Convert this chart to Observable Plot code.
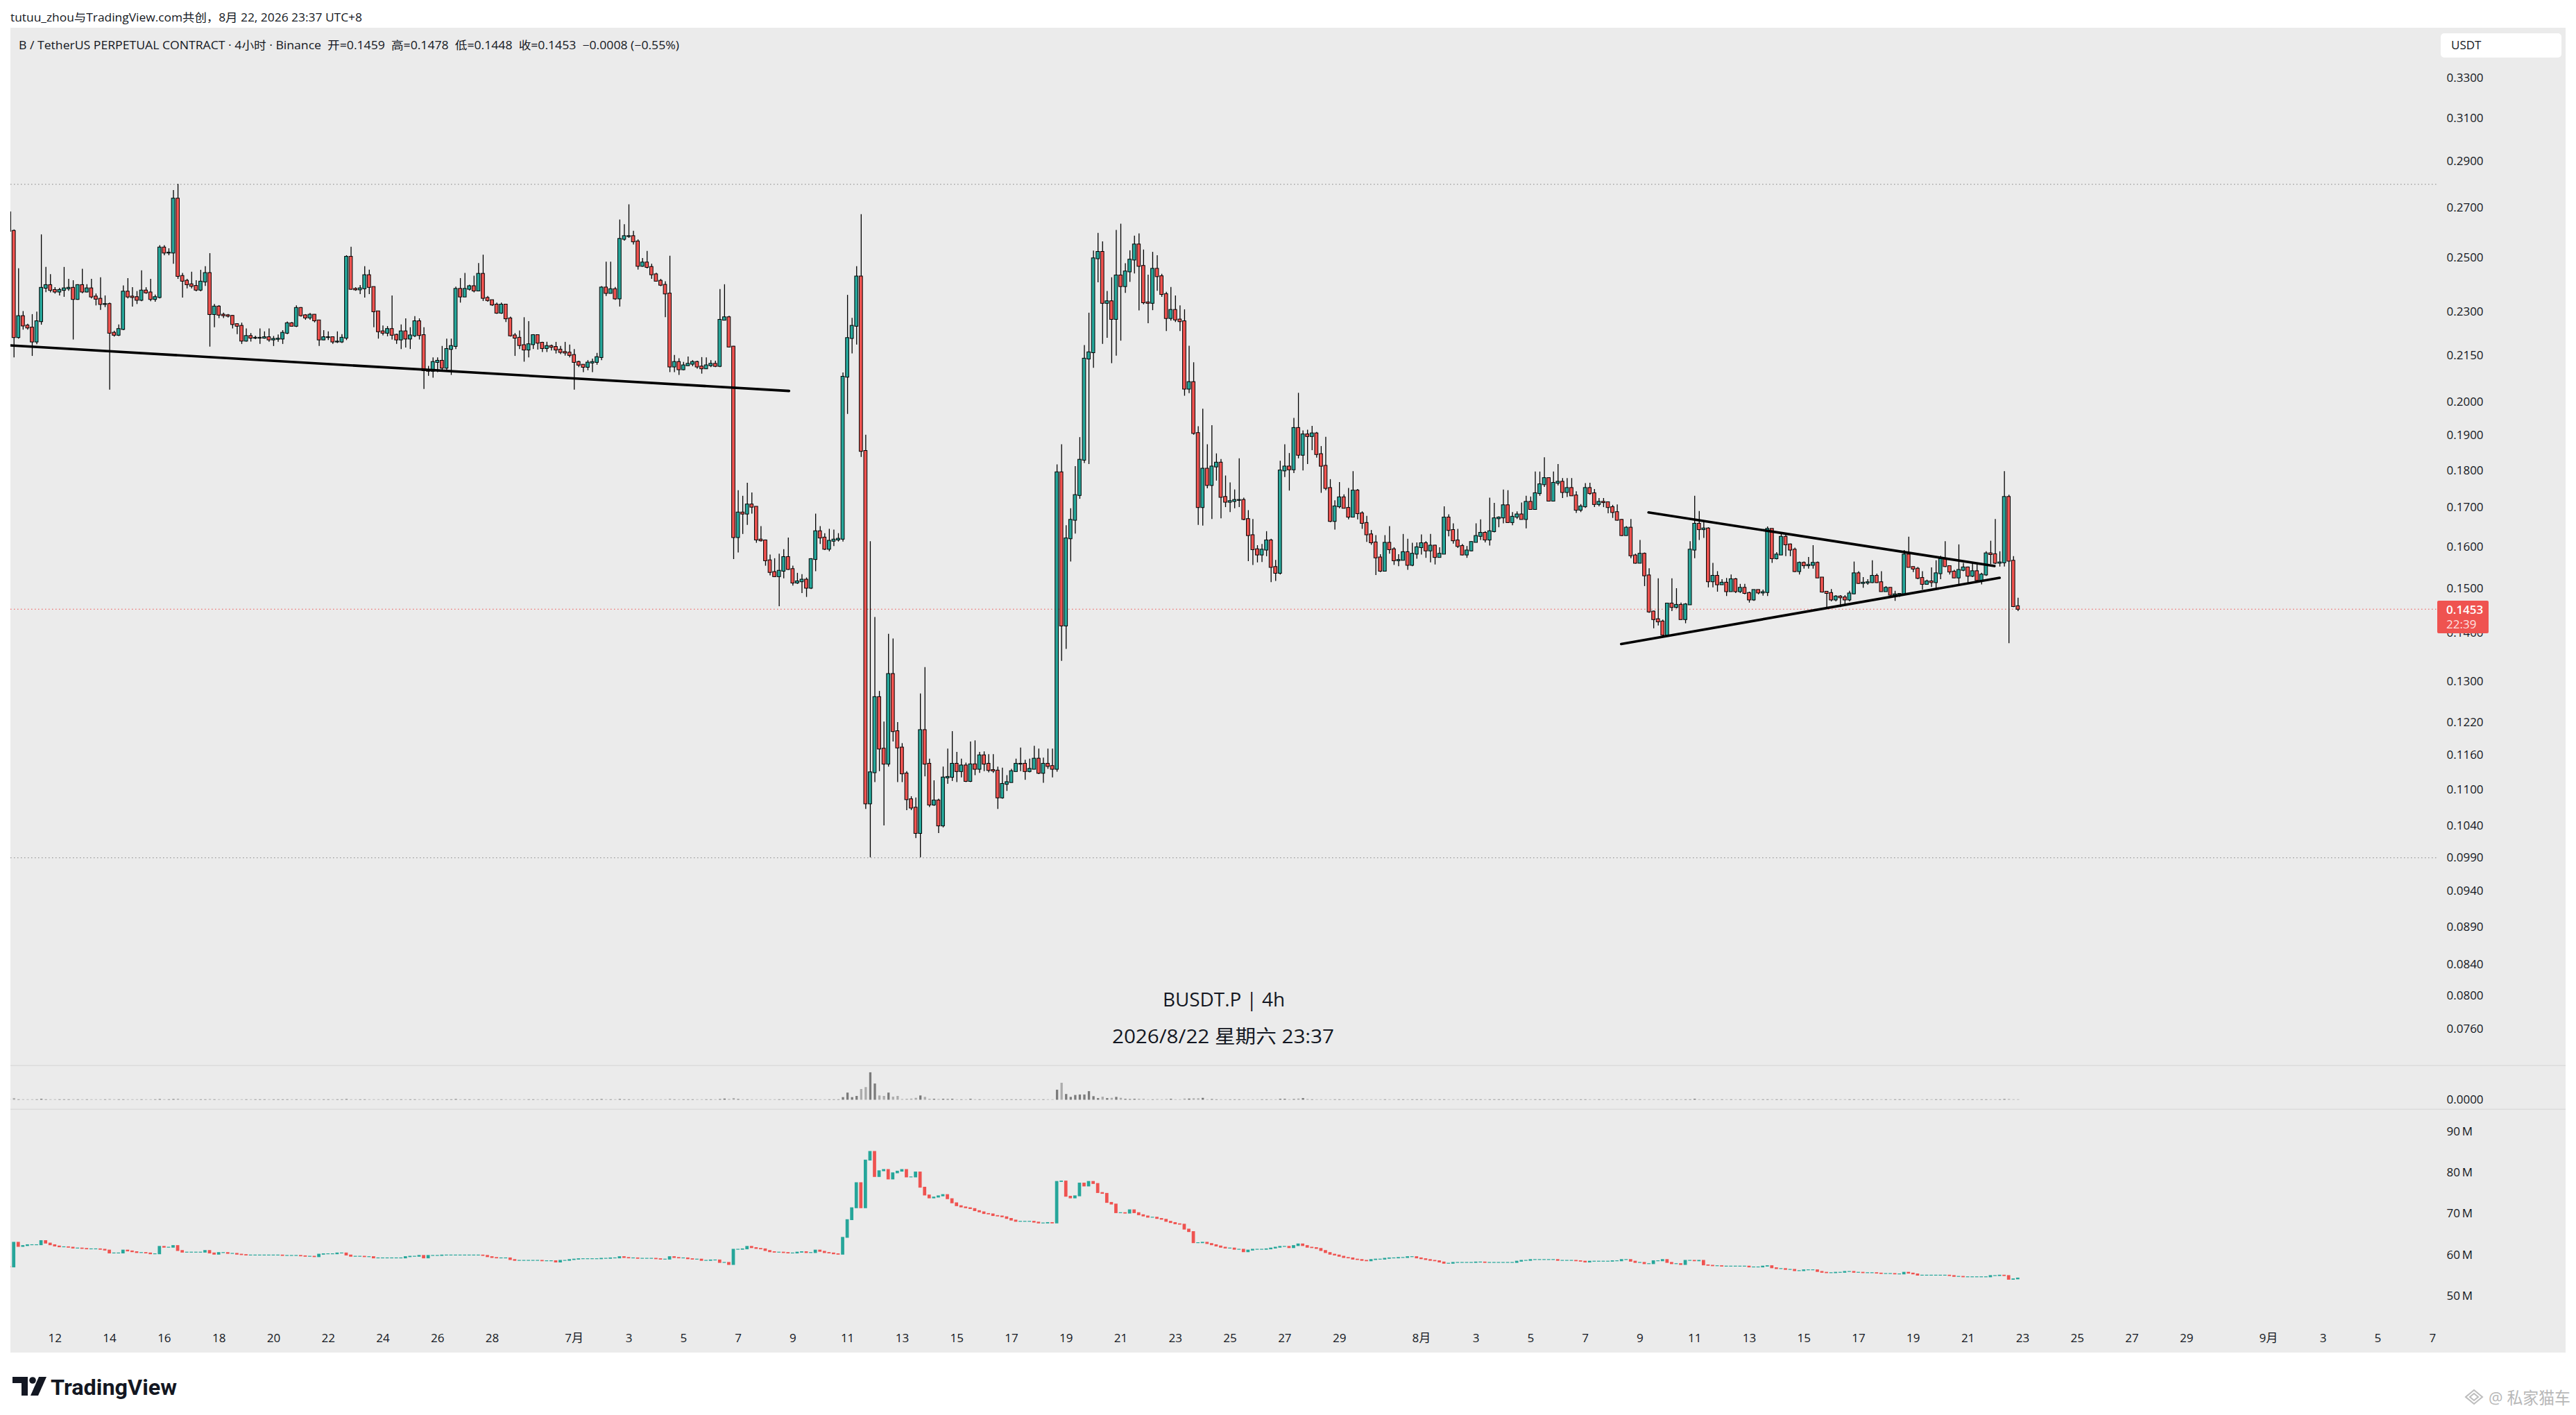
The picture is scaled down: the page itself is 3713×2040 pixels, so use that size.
<!DOCTYPE html>
<html><head><meta charset="utf-8">
<script src="https://cdn.jsdelivr.net/npm/d3@7"></script>
<script src="https://cdn.jsdelivr.net/npm/@observablehq/plot@0.6"></script>
<style>
html,body{margin:0;padding:0;background:#fff;}
#root{position:relative;width:3713px;height:2040px;overflow:hidden;background:#fff;}
#bg{position:absolute;left:15px;top:40px;width:3683px;height:1910px;background:#ebebeb;}
.pane{position:absolute;left:0;}
#overlay{position:absolute;left:0;top:0;pointer-events:none;}
</style></head><body><div id="root"><div id="bg"></div></div>
<script>
// ---------------- DATA ----------------
const startTime = "2026-06-10T08:00"; // first 4h candle, local UTC+8 time
const firstOpen = 0.2680;
const close = [
.2604,.2210,.2283,.2250,.2243,.2195,.2265,.2385,.2395,.2377,
.2371,.2377,.2383,.2385,.2344,.2395,.2371,.2383,.2353,.2345,
.2326,.2326,.2225,.2218,.2238,.2371,.2353,.2351,.2341,.2375,
.2368,.2344,.2351,.2538,.2518,.2518,.2737,.2429,.2411,.2398,
.2392,.2378,.2408,.2440,.2290,.2317,.2288,.2286,.2284,.2255,
.2249,.2198,.2214,.2208,.2208,.2208,.2210,.2202,.2204,.2205,
.2225,.2258,.2249,.2312,.2286,.2278,.2288,.2268,.2202,.2210,
.2210,.2195,.2195,.2208,.2502,.2381,.2379,.2383,.2432,.2388,
.2300,.2230,.2225,.2238,.2218,.2202,.2230,.2205,.2216,.2265,
.2217,.2100,.2098,.2127,.2131,.2108,.2170,.2180,.2381,.2353,
.2381,.2391,.2375,.2437,.2348,.2340,.2324,.2295,.2324,.2275,
.2216,.2208,.2183,.2168,.2186,.2217,.2191,.2173,.2180,.2177,
.2168,.2160,.2158,.2150,.2127,.2118,.2111,.2125,.2127,.2143,
.2386,.2366,.2380,.2346,.2572,.2583,.2583,.2562,.2467,.2480,
.2463,.2435,.2411,.2396,.2364,.2112,.2127,.2103,.2116,.2121,
.2127,.2112,.2106,.2116,.2121,.2114,.2270,.2279,.2178,.1623,
.1686,.1683,.1707,.1701,.1617,.1615,.1566,.1538,.1528,.1541,
.1574,.1545,.1513,.1516,.1520,.1501,.1569,.1638,.1622,.1594,
.1614,.1617,.1619,.2079,.2207,.2249,.2427,.1854,.1076,.1129,
.1268,.1171,.1144,.1314,.1203,.1173,.1127,.1083,.1069,.1028,
.1205,.1144,.1074,.1081,.1040,.1120,.1121,.1144,.1131,.1141,
.1114,.1143,.1135,.1159,.1144,.1133,.1132,.1086,.1109,.1112,
.1131,.1144,.1144,.1131,.1135,.1153,.1128,.1144,.1140,.1135,
.1794,.1416,.1620,.1667,.1732,.1829,.2138,.2159,.2496,.2521,
.2330,.2336,.2273,.2431,.2391,.2446,.2491,.2550,.2467,.2332,
.2330,.2456,.2428,.2362,.2276,.2305,.2271,.2265,.2041,.2062,
.1906,.1700,.1804,.1759,.1810,.1821,.1727,.1714,.1716,.1719,
.1719,.1669,.1628,.1593,.1580,.1592,.1615,.1550,.1536,.1799,
.1810,.1802,.1921,.1843,.1902,.1897,.1905,.1845,.1812,.1751,
.1664,.1702,.1726,.1698,.1675,.1744,.1684,.1659,.1630,.1610,
.1573,.1541,.1609,.1593,.1566,.1567,.1586,.1555,.1582,.1598,
.1608,.1590,.1602,.1574,.1582,.1673,.1641,.1615,.1601,.1580,
.1590,.1611,.1626,.1634,.1617,.1638,.1671,.1673,.1705,.1661,
.1675,.1681,.1669,.1714,.1695,.1737,.1761,.1778,.1717,.1765,
.1768,.1740,.1751,.1731,.1693,.1702,.1751,.1737,.1708,.1714,
.1713,.1700,.1687,.1667,.1628,.1647,.1578,.1560,.1582,.1530,
.1447,.1430,.1425,.1396,.1465,.1457,.1462,.1430,.1463,.1592,
.1657,.1643,.1645,.1516,.1529,.1509,.1513,.1493,.1521,.1493,
.1501,.1489,.1474,.1496,.1490,.1491,.1644,.1571,.1580,.1624,
.1605,.1592,.1540,.1560,.1554,.1555,.1560,.1525,.1492,.1489,
.1474,.1481,.1479,.1474,.1488,.1535,.1512,.1513,.1514,.1529,
.1514,.1493,.1501,.1485,.1486,.1487,.1580,.1550,.1546,.1524,
.1510,.1516,.1514,.1535,.1569,.1552,.1539,.1525,.1543,.1549,
.1529,.1540,.1519,.1532,.1583,.1581,.1560,.1561,.1727,.1565,
.1459,.1453];
const high = [
.2690,.2610,.2458,.2301,.2256,.2290,.2299,.2590,.2463,.2436,
.2387,.2385,.2463,.2418,.2413,.2398,.2456,.2398,.2418,.2364,
.2424,.2357,.2331,.2232,.2254,.2394,.2421,.2387,.2373,.2450,
.2387,.2418,.2360,.2547,.2547,.2535,.2773,.2800,.2440,.2418,
.2445,.2413,.2452,.2466,.2516,.2326,.2322,.2295,.2290,.2287,
.2258,.2260,.2240,.2224,.2215,.2240,.2230,.2240,.2214,.2219,
.2234,.2264,.2262,.2321,.2315,.2290,.2294,.2290,.2270,.2234,
.2230,.2212,.2230,.2220,.2508,.2541,.2387,.2395,.2466,.2453,
.2388,.2300,.2250,.2248,.2357,.2222,.2254,.2275,.2244,.2283,
.2275,.2244,.2114,.2142,.2142,.2180,.2205,.2205,.2389,.2421,
.2440,.2396,.2430,.2478,.2510,.2355,.2342,.2331,.2331,.2326,
.2281,.2224,.2233,.2279,.2265,.2220,.2219,.2194,.2194,.2185,
.2194,.2180,.2194,.2185,.2170,.2131,.2118,.2133,.2138,.2157,
.2391,.2483,.2483,.2388,.2650,.2631,.2713,.2604,.2570,.2497,
.2525,.2475,.2441,.2418,.2409,.2506,.2150,.2139,.2127,.2145,
.2133,.2131,.2143,.2142,.2133,.2131,.2380,.2398,.2284,.2180,
.1745,.1730,.1765,.1739,.1701,.1651,.1617,.1580,.1571,.1582,
.1593,.1622,.1553,.1536,.1533,.1525,.1571,.1683,.1651,.1633,
.1644,.1642,.1633,.2093,.2359,.2277,.2466,.2672,.1901,.1613,
.1435,.1280,.1221,.1398,.1388,.1220,.1181,.1131,.1088,.1086,
.1275,.1328,.1153,.1115,.1084,.1139,.1171,.1203,.1165,.1153,
.1146,.1184,.1186,.1165,.1166,.1161,.1161,.1139,.1137,.1124,
.1135,.1153,.1173,.1151,.1153,.1176,.1171,.1155,.1171,.1171,
.1816,.1873,.1653,.1697,.1811,.1894,.2183,.2295,.2526,.2596,
.2562,.2373,.2424,.2608,.2633,.2477,.2527,.2585,.2594,.2530,
.2434,.2521,.2508,.2437,.2370,.2388,.2357,.2321,.2307,.2181,
.2126,.1926,.1979,.1873,.1929,.1847,.1831,.1785,.1766,.1747,
.1833,.1725,.1692,.1669,.1603,.1606,.1638,.1619,.1567,.1826,
.1873,.1848,.1951,.2028,.1914,.1916,.1927,.1909,.1868,.1895,
.1775,.1718,.1767,.1734,.1751,.1797,.1748,.1689,.1677,.1641,
.1628,.1581,.1628,.1651,.1598,.1581,.1631,.1619,.1609,.1610,
.1630,.1613,.1631,.1604,.1598,.1702,.1681,.1658,.1644,.1606,
.1601,.1613,.1658,.1668,.1638,.1725,.1711,.1676,.1747,.1745,
.1687,.1689,.1712,.1730,.1728,.1796,.1796,.1836,.1780,.1796,
.1817,.1778,.1778,.1778,.1742,.1708,.1764,.1765,.1748,.1724,
.1724,.1713,.1706,.1707,.1669,.1651,.1669,.1582,.1616,.1585,
.1547,.1449,.1523,.1429,.1466,.1523,.1500,.1467,.1466,.1613,
.1730,.1690,.1666,.1648,.1560,.1540,.1521,.1524,.1532,.1524,
.1510,.1510,.1492,.1497,.1497,.1497,.1650,.1643,.1586,.1632,
.1631,.1607,.1597,.1563,.1563,.1574,.1603,.1563,.1526,.1493,
.1498,.1484,.1484,.1484,.1494,.1563,.1540,.1526,.1521,.1566,
.1534,.1540,.1505,.1502,.1494,.1489,.1591,.1624,.1551,.1550,
.1540,.1520,.1549,.1566,.1577,.1613,.1552,.1543,.1605,.1560,
.1551,.1560,.1556,.1536,.1588,.1614,.1669,.1588,.1797,.1733,
.1576,.1478];
const low = [
.2598,.2142,.2205,.2236,.2236,.2147,.2186,.2253,.2369,.2368,
.2364,.2357,.2352,.2374,.2202,.2341,.2365,.2368,.2346,.2321,
.2305,.2315,.2038,.2212,.2214,.2234,.2346,.2317,.2326,.2336,
.2363,.2336,.2334,.2346,.2508,.2508,.2475,.2418,.2349,.2383,
.2383,.2372,.2372,.2392,.2178,.2244,.2276,.2276,.2278,.2240,
.2220,.2187,.2195,.2195,.2203,.2187,.2205,.2194,.2180,.2194,
.2187,.2220,.2247,.2245,.2281,.2270,.2270,.2261,.2180,.2200,
.2200,.2187,.2190,.2190,.2200,.2378,.2374,.2362,.2349,.2362,
.2244,.2205,.2216,.2213,.2202,.2187,.2170,.2175,.2170,.2210,
.2202,.2040,.2082,.2076,.2094,.2098,.2098,.2085,.2170,.2331,
.2351,.2375,.2368,.2373,.2337,.2334,.2319,.2291,.2291,.2262,
.2212,.2147,.2170,.2128,.2142,.2170,.2168,.2160,.2160,.2165,
.2155,.2153,.2148,.2142,.2038,.2110,.2094,.2100,.2094,.2118,
.2133,.2355,.2366,.2341,.2317,.2565,.2576,.2550,.2453,.2464,
.2457,.2418,.2409,.2391,.2279,.2094,.2094,.2085,.2100,.2118,
.2113,.2105,.2089,.2104,.2110,.2110,.2110,.2270,.2176,.1569,
.1585,.1631,.1654,.1683,.1609,.1612,.1553,.1530,.1526,.1459,
.1523,.1543,.1506,.1510,.1489,.1480,.1498,.1540,.1606,.1591,
.1588,.1601,.1612,.1612,.1963,.2155,.2185,.1837,.1067,.0990,
.1112,.1131,.1040,.1139,.1184,.1112,.1112,.1065,.1065,.1020,
.0990,.1122,.1070,.1072,.1028,.1037,.1109,.1114,.1112,.1120,
.1112,.1112,.1124,.1128,.1131,.1129,.1128,.1067,.1084,.1097,
.1112,.1131,.1131,.1116,.1129,.1135,.1126,.1111,.1135,.1120,
.1130,.1341,.1366,.1563,.1632,.1722,.1820,.1817,.2108,.2405,
.2187,.2208,.2123,.2148,.2198,.2366,.2407,.2438,.2303,.2325,
.2258,.2304,.2374,.2352,.2231,.2267,.2262,.2231,.2019,.2027,
.1901,.1654,.1652,.1750,.1669,.1771,.1671,.1700,.1687,.1697,
.1700,.1666,.1564,.1555,.1561,.1562,.1576,.1514,.1517,.1532,
.1781,.1744,.1792,.1833,.1799,.1817,.1856,.1835,.1738,.1745,
.1661,.1642,.1697,.1697,.1668,.1675,.1668,.1644,.1611,.1604,
.1531,.1538,.1539,.1582,.1555,.1552,.1566,.1543,.1552,.1570,
.1580,.1572,.1561,.1556,.1574,.1581,.1625,.1607,.1596,.1578,
.1572,.1588,.1610,.1616,.1610,.1602,.1635,.1648,.1658,.1659,
.1653,.1669,.1668,.1645,.1693,.1693,.1730,.1754,.1715,.1717,
.1758,.1724,.1727,.1730,.1685,.1687,.1698,.1733,.1700,.1702,
.1700,.1684,.1672,.1665,.1626,.1628,.1571,.1558,.1560,.1505,
.1444,.1410,.1416,.1393,.1396,.1448,.1454,.1429,.1421,.1462,
.1571,.1616,.1621,.1502,.1502,.1492,.1508,.1482,.1492,.1489,
.1489,.1486,.1467,.1471,.1486,.1483,.1482,.1560,.1568,.1579,
.1576,.1576,.1538,.1532,.1546,.1546,.1546,.1524,.1490,.1457,
.1470,.1470,.1457,.1462,.1470,.1486,.1510,.1501,.1508,.1512,
.1512,.1492,.1492,.1483,.1471,.1480,.1486,.1549,.1538,.1521,
.1497,.1509,.1503,.1497,.1521,.1550,.1532,.1524,.1509,.1540,
.1513,.1526,.1517,.1509,.1529,.1557,.1557,.1551,.1551,.1378,
.1457,.1448];
// open interest candles (millions), open = previous close
const oiFirstOpen = 57.1;
const oiClose = [
57.0,63.0,62.0,62.2,62.4,62.4,62.4,63.4,62.8,62.4,
62.1,61.9,61.9,61.8,61.6,61.6,61.5,61.4,61.4,61.4,
61.3,61.1,60.4,60.4,60.4,61.1,60.9,60.7,60.5,60.5,
60.4,60.2,60.2,62.0,61.8,61.8,62.2,61.0,60.6,60.6,
60.6,60.6,60.6,61.0,60.4,60.1,60.5,60.5,60.3,60.3,
60.1,60.0,59.9,59.9,59.9,59.9,59.9,59.9,59.9,59.9,
59.8,59.8,59.8,59.8,59.7,59.6,59.6,59.5,60.1,60.2,
60.2,60.2,60.4,60.4,59.9,59.6,59.6,59.6,59.5,59.5,
59.2,59.2,59.2,59.2,59.2,59.2,59.2,59.5,59.6,59.6,
59.8,59.2,59.8,59.8,59.8,59.9,59.9,59.9,59.9,59.9,
59.9,59.9,59.9,59.9,59.8,59.5,59.3,59.2,59.2,59.2,
58.8,58.6,58.6,58.6,58.6,58.6,58.6,58.5,58.5,58.5,
58.2,58.6,58.6,58.8,58.9,59.0,59.0,59.0,59.0,59.0,
59.1,59.1,59.2,59.2,59.5,59.3,59.2,59.2,59.1,59.1,
59.1,59.1,59.0,58.9,58.9,59.5,59.3,59.2,59.2,59.0,
58.9,58.9,58.6,58.6,58.7,58.7,58.1,58.1,57.6,61.3,
61.3,61.4,62.0,61.7,61.5,61.4,61.0,60.7,60.6,60.6,
60.5,60.4,60.4,60.6,60.7,60.5,60.5,61.1,60.8,60.5,
60.4,60.2,60.1,64.2,68.5,71.4,77.5,71.4,83.0,85.1,
79.0,80.4,80.7,78.4,79.9,80.3,80.7,78.9,78.9,80.1,
76.4,74.5,73.8,74.0,74.3,74.6,73.6,72.6,71.9,71.6,
71.4,71.2,70.7,70.4,70.0,69.9,69.5,69.4,69.2,68.8,
68.4,68.1,68.1,68.1,68.1,67.9,67.7,67.7,67.8,67.7,
77.8,77.9,74.2,73.8,74.3,77.4,76.7,77.8,77.3,75.1,
74.9,72.7,72.3,70.2,70.2,70.1,70.9,70.2,69.7,69.4,
69.1,69.1,68.8,68.6,68.1,67.8,67.5,67.4,66.2,65.6,
62.9,62.9,63.0,62.7,62.4,62.1,61.8,61.6,61.6,61.3,
61.3,60.7,61.1,61.3,61.3,61.3,61.4,61.6,61.8,62.0,
62.0,61.7,62.2,62.6,62.2,61.8,61.7,61.5,61.0,60.5,
60.1,59.9,59.6,59.3,59.2,58.9,58.8,58.6,58.5,58.8,
58.9,58.9,59.1,59.2,59.2,59.3,59.3,59.5,59.5,59.2,
59.0,58.8,58.6,58.5,58.2,57.9,57.9,58.1,58.1,58.1,
58.1,58.1,58.2,58.2,58.1,58.1,58.1,58.1,58.1,58.1,
58.1,58.4,58.6,58.6,58.8,58.8,58.8,58.8,58.8,58.8,
58.6,58.6,58.6,58.6,58.5,58.4,58.2,58.4,58.4,58.4,
58.4,58.4,58.5,58.5,58.8,58.8,58.4,58.1,58.1,57.8,
57.8,58.5,58.5,58.8,58.1,57.8,57.8,57.6,58.6,58.6,
58.5,58.6,57.5,57.4,57.3,57.3,57.2,57.2,57.2,57.2,
57.2,57.2,57.0,57.0,57.0,57.2,57.3,56.8,56.6,56.6,
56.4,56.4,56.1,56.1,56.3,56.3,56.3,55.9,55.7,55.6,
55.6,55.7,55.7,55.9,55.9,55.7,55.7,55.6,55.6,55.6,
55.5,55.4,55.4,55.4,55.3,55.3,55.7,55.5,55.3,55.0,
55.0,55.0,55.0,55.0,55.0,55.0,54.9,54.7,54.7,54.6,
54.6,54.6,54.6,54.6,54.6,54.9,54.9,55.0,54.9,54.0,
54.1,54.3];
// volume bars (relative units)
const volume = [
4,7,2,2,2,2,2,4,2,2, 2,2,2,2,2,2,2,2,2,2, 2,2,3,2,2,2,2,2,2,2, 2,2,2,3,2,2,3,4,2,2,
2,2,2,2,3,2,2,2,2,2, 2,2,2,2,2,2,2,2,2,2, 2,2,2,2,2,2,2,2,2,2, 2,2,2,2,3,2,2,2,2,2,
2,2,2,2,2,2,2,2,2,2, 2,3,2,2,2,2,2,2,3,2, 2,2,2,2,2,2,2,2,2,2, 2,2,2,2,2,2,2,2,2,2,
2,2,2,2,3,2,2,2,2,2, 3,2,2,2,3,2,2,2,2,2, 2,2,2,2,2,4,2,2,2,2, 2,2,2,2,2,2,3,5,3,7,
3,2,2,2,2,2,2,2,2,2, 2,2,2,2,2,2,2,2,2,2, 2,2,2,11,30,11,16,45,53,115, 68,18,16,30,13,16,3,4,5,8,
18,12,4,4,3,4,3,4,2,2, 2,4,2,2,2,2,2,2,2,2, 2,2,2,2,2,2,2,2,2,2, 42,71,24,12,20,22,22,36,15,7,
13,7,8,12,8,4,3,4,4,4, 2,2,3,2,3,4,2,2,5,5, 6,6,8,2,3,2,2,2,2,2, 2,2,2,2,2,2,2,2,2,4,
4,2,3,5,7,3,2,2,2,2, 2,2,2,2,2,2,2,2,2,2, 2,2,2,2,2,2,2,2,2,2, 2,2,2,2,2,2,2,2,2,2,
2,2,2,2,2,2,2,2,2,2, 2,2,2,2,2,2,2,2,2,2, 2,2,2,2,2,2,2,2,2,2, 2,2,2,2,2,2,2,2,2,2,
2,2,2,2,2,2,2,2,2,2, 4,2,2,2,2,2,2,2,2,2, 2,2,2,2,2,2,2,2,2,2, 2,2,2,2,2,2,2,2,2,2,
2,2,2,2,2,2,2,2,2,2, 2,2,2,2,2,2,2,2,2,2, 2,2,2,2,2,2,2,2,2,2, 2,2,2,2,2,2,2,2,3,3,
2,2];
const priceTicks = [0.33,0.31,0.29,0.27,0.25,0.23,0.215,0.20,0.19,0.18,0.17,0.16,0.15,0.14,0.13,0.122,0.116,0.110,0.104,0.099,0.094,0.089,0.084,0.080,0.076];
const oiTicks = [50,60,70,80,90];
const dateTicks = ["2026-06-12","2026-06-14","2026-06-16","2026-06-18","2026-06-20","2026-06-22","2026-06-24","2026-06-26","2026-06-28",
"2026-07-01","2026-07-03","2026-07-05","2026-07-07","2026-07-09","2026-07-11","2026-07-13","2026-07-15","2026-07-17","2026-07-19","2026-07-21","2026-07-23","2026-07-25","2026-07-27","2026-07-29",
"2026-08-01","2026-08-03","2026-08-05","2026-08-07","2026-08-09","2026-08-11","2026-08-13","2026-08-15","2026-08-17","2026-08-19","2026-08-21","2026-08-23","2026-08-25","2026-08-27","2026-08-29",
"2026-09-01","2026-09-03","2026-09-05","2026-09-07"];
const dateLabels = ["12","14","16","18","20","22","24","26","28",
"7月","3","5","7","9","11","13","15","17","19","21","23","25","27","29",
"8月","3","5","7","9","11","13","15","17","19","21","23","25","27","29",
"9月","3","5","7"];
const trendLines = [
  {id:"support", t:"2026-06-10T09:07", p:0.2183},
  {id:"support", t:"2026-07-08T20:38", p:0.2035},
  {id:"upper", t:"2026-08-09T07:26", p:0.1687},
  {id:"upper", t:"2026-08-21T23:17", p:0.1553},
  {id:"lower", t:"2026-08-08T07:26", p:0.1377},
  {id:"lower", t:"2026-08-22T03:50", p:0.1525}
];
const legendText = "B / TetherUS PERPETUAL CONTRACT · 4小时 · Binance  开=0.1459  高=0.1478  低=0.1448  收=0.1453  −0.0008 (−0.55%)";
const headerText = "tutuu_zhou与TradingView.com共创，8月 22, 2026 23:37 UTC+8";

// ---------------- RENDER ----------------
const W = 3713, ML = 15, MR = 201;
const UP = "#26a69a", DOWN = "#ef5350";
const FONT = "'Open Sans','Noto Sans','Noto Sans CJK SC',sans-serif";
const H4 = 4*3600*1000;
const t0 = Date.parse(startTime + ":00Z");
const day0 = Date.UTC(2026,5,12);
const xDomain = [new Date(day0 - 1.6197*864e5), new Date(day0 + 87.159*864e5)];
const utc = s => new Date(s.length <= 10 ? s + "T00:00:00Z" : s + ":00Z");

const candles = close.map((c, j) => {
  const o = j === 0 ? firstOpen : close[j-1];
  const tt = t0 + j*H4;
  const oo = j === 0 ? oiFirstOpen : oiClose[j-1];
  return {t: new Date(tt), t1: new Date(tt - 0.36*H4), t2: new Date(tt + 0.36*H4),
    o, c, h: Math.max(high[j], o, c), l: Math.min(low[j], o, c), up: c >= o,
    v: volume[j], oo, oc: oiClose[j], oup: oiClose[j] >= oo};
});
const upC = candles.filter(d => d.up), downC = candles.filter(d => !d.up);
const maxHigh = d3.max(candles, d => d.h), minLow = d3.min(candles, d => d.l);
const lastClose = close[close.length-1];
const tl = trendLines.map(d => ({...d, t: utc(d.t)}));

const baseStyle = {background:"transparent", fontFamily: FONT, fontSize:"17px", color:"#131722", overflow:"visible"};
const root = document.getElementById("root");
function place(svg, top){ const d = document.createElement("div"); d.className="pane"; d.style.top = top+"px"; d.appendChild(svg); root.appendChild(d); }

const bodyOpts = {x1:"t1", x2:"t2", y1:"o", y2:"c", stroke:"#000", strokeWidth:1, insetTop:-0.6, insetBottom:-0.6, clip:true};
const pricePlot = Plot.plot({
  width: W, height: 1496, marginTop: 0, marginBottom: 0, marginLeft: ML, marginRight: MR,
  x: {type:"utc", domain: xDomain, axis: null},
  y: {type:"log", domain:[0.07181, 0.3563]},
  style: baseStyle,
  marks: [
    Plot.ruleY([maxHigh, minLow], {stroke:"#9a9a9a", strokeWidth:1.2, strokeDasharray:"1.5,3.5"}),
    Plot.ruleY([lastClose], {stroke:DOWN, strokeWidth:1.2, strokeDasharray:"1.5,3.5"}),
    Plot.ruleX(candles, {x:"t", y1:"l", y2:"h", stroke:"#000", strokeWidth:1.3, clip:true}),
    Plot.rect(upC, {...bodyOpts, fill: UP}),
    Plot.rect(downC, {...bodyOpts, fill: DOWN}),
    Plot.line(tl, {x:"t", y:"p", z:"id", stroke:"#000", strokeWidth:3.6, clip:true}),
    Plot.axisY({anchor:"right", ticks: priceTicks, tickFormat: d => d.toFixed(4), tickSize:0, tickPadding:14, label:null, fontSize:17, fill:"#131722"})
  ]
});
place(pricePlot, 40);

const volPlot = Plot.plot({
  width: W, height: 63, marginTop: 0, marginBottom: 0, marginLeft: ML, marginRight: MR,
  x: {type:"utc", domain: xDomain, axis: null},
  y: {domain:[-39.2, 143.8]},
  style: baseStyle,
  marks: [
    Plot.ruleX(upC, {x:"t", y1:0, y2:"v", stroke:"#7b7b7b", strokeWidth:3.3, clip:true}),
    Plot.ruleX(downC, {x:"t", y1:0, y2:"v", stroke:"#ababab", strokeWidth:3.3, clip:true}),
    Plot.axisY({anchor:"right", ticks:[0], tickFormat: d => d.toFixed(4), tickSize:0, tickPadding:14, label:null, fontSize:17, fill:"#131722"})
  ]
});
place(volPlot, 1536);

const labelMap = new Map(dateTicks.map((s,i) => [+utc(s), dateLabels[i]]));
const oiUp = candles.filter(d => d.oup), oiDown = candles.filter(d => !d.oup);
const oiBody = {x1:"t1", x2:"t2", y1:"oo", y2:"oc", insetTop:-0.6, insetBottom:-0.6, clip:true};
const oiPlot = Plot.plot({
  width: W, height: 351, marginTop: 0, marginBottom: 45, marginLeft: ML, marginRight: MR,
  x: {type:"utc", domain: xDomain},
  y: {domain:[43.76, 95.40]},
  style: baseStyle,
  marks: [
    Plot.rect(oiUp, {...oiBody, fill: UP}),
    Plot.rect(oiDown, {...oiBody, fill: DOWN}),
    Plot.axisY({anchor:"right", ticks: oiTicks, tickFormat: d => d + "\u2009M", tickSize:0, tickPadding:14, label:null, fontSize:17, fill:"#131722"}),
    Plot.axisX({anchor:"bottom", ticks: dateTicks.map(utc), tickFormat: d => labelMap.get(+d), tickSize:0, tickPadding:17, label:null, fontSize:17, fill:"#131722"})
  ]
});
place(oiPlot, 1599);

// overlay: header, legend, watermarks, labels
const ov = `
<svg id="overlay" width="3713" height="2040" xmlns="http://www.w3.org/2000/svg" font-family="${FONT.replace(/"/g,"")}">
  <rect x="15" y="1535.5" width="3683" height="1.5" fill="#dcdcdc"/>
  <rect x="15" y="1598.5" width="3683" height="1.5" fill="#dcdcdc"/>
  <text x="15" y="31" font-size="16" fill="#131722" textLength="507" lengthAdjust="spacingAndGlyphs">${headerText}</text>
  <text x="27" y="71" font-size="16" fill="#131722" textLength="952" lengthAdjust="spacingAndGlyphs" xml:space="preserve">${legendText}</text>
  <rect x="3518" y="48" width="174" height="35" rx="5" fill="#ffffff"/>
  <text x="3533" y="71" font-size="17" fill="#131722">USDT</text>
  <rect x="3513" y="866" width="74" height="47" rx="2" fill="${DOWN}"/>
  <text x="3526" y="885" font-size="17" fill="#ffffff" font-weight="600">${lastClose.toFixed(4)}</text>
  <text x="3526" y="906" font-size="17" fill="#ffffff" fill-opacity="0.85">22:39</text>
  <text x="1764" y="1451" font-size="27" fill="#131722" text-anchor="middle" textLength="176" lengthAdjust="spacingAndGlyphs">BUSDT.P | 4h</text>
  <text x="1763" y="1504" font-size="27" fill="#131722" text-anchor="middle" textLength="320" lengthAdjust="spacingAndGlyphs">2026/8/22 星期六 23:37</text>
  <g fill="#131722">
    <path d="M18,1985 h22 v27 h-9 v-18 h-13 z"/>
    <circle cx="47" cy="1990" r="4.8"/>
    <path d="M56,1985 h11 l-12,27 h-11 z"/>
  </g>
  <text x="73" y="2011" font-size="31" font-weight="700" fill="#131722" textLength="182" lengthAdjust="spacingAndGlyphs" font-family="Roboto,Inter,sans-serif">TradingView</text>
  <g fill="none" stroke="#bdbdbd" stroke-width="2">
    <path d="M3566,2004 l12,10 l-12,10 l-12,-10 z"/>
    <path d="M3566,2009 l6,5 l-6,5 l-6,-5 z"/>
  </g>
  <text x="3587" y="2024" font-size="24" fill="#b8b8b8" textLength="118" lengthAdjust="spacingAndGlyphs">@ 私家猫车</text>
</svg>`;
root.insertAdjacentHTML("beforeend", ov);
</script>
</body></html>
